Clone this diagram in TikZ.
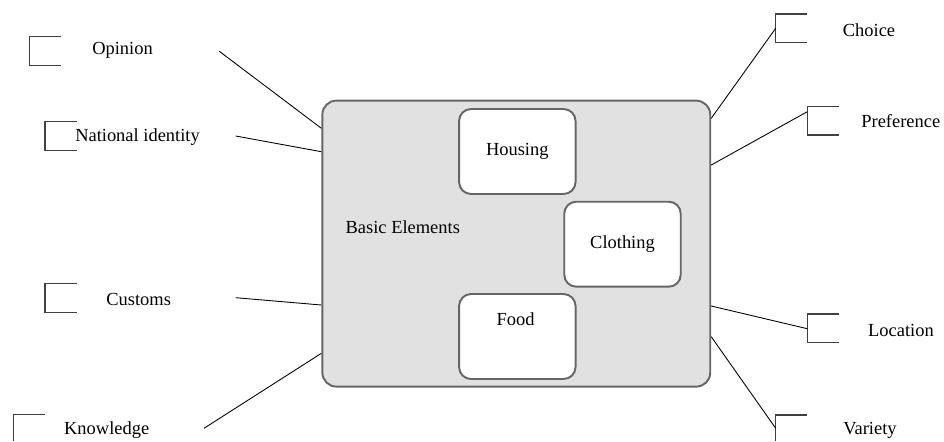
\documentclass[tikz,border=0pt]{standalone}
\usepackage{fontspec}
\setmainfont{Liberation Serif}
\usepackage{xcolor}
\definecolor{box-gray}{HTML}{E1E1E1}
\definecolor{edge-gray}{HTML}{666666}
\definecolor{brack-gray}{HTML}{404040}

\begin{document}
\begin{tikzpicture}[x=0.02cm, y=-0.02cm,
        every node/.style={font=\fontsize{10.5}{12}\selectfont, inner sep=0pt},
        elem/.style={draw=edge-gray, line width=1.1pt, fill=white,
            rounded corners=0.24cm, minimum width=2.33cm, minimum height=1.7cm},
        brack/.style={draw=brack-gray, line width=0.6pt},
        link/.style={draw=black, line width=0.5pt}]
      \useasboundingbox (0,0) rectangle (944,441);
      % central block
      \node[draw=edge-gray, line width=1.1pt, fill=box-gray,
            rounded corners=0.28cm, minimum width=7.76cm, minimum height=5.72cm]
            (BASIC) at (516.3,243.6) {};
      \node (BTXT) at (402.8,226.7) {Basic Elements};
      \node[elem] (HOUS) at (517.3,151.5) {Housing};
      \node[elem] (CLOTH) at (622.5,244.2) {Clothing};
      \node[elem] (FOOD) at (517.3,336.5) {};
      \node (FTXT) at (515.7,319) {Food};
      % left labels
      \draw[brack] (61,36.7) -| (29.3,65.7) -- (61,65.7);
      \node (OPIN) at (122.5,50.7) {Opinion};
      \coordinate (OPINe) at (219.3,51.3);
      \draw[brack] (77,121.7) -| (45,150.7) -- (77,150.7);
      \node (NATID) at (137.5,136.7) {National identity};
      \coordinate (NATIDe) at (235.7,136);
      \draw[brack] (77,283.3) -| (45,312.3) -- (77,312.3);
      \node (CUST) at (138.7,299) {Customs};
      \coordinate (CUSTe) at (235.7,297.7);
      \draw[brack] (45,414.7) -| (13.3,441);
      \node (KNOW) at (106.7,430) {Knowledge};
      \coordinate (KNOWe) at (204,428.3);
      % right labels
      \draw[brack] (807.3,14) -| (775.7,42.7) -- (807.3,42.7);
      \coordinate (CHOb) at (775.7,28.3);
      \node (CHO) at (869,30) {Choice};
      \draw[brack] (839.3,106.7) -| (807.3,135) -- (839.3,135);
      \coordinate (PREFb) at (807.3,111.7);
      \node (PREF) at (900.8,120.7) {Preference};
      \draw[brack] (839.3,314) -| (807.3,342.7) -- (839.3,342.7);
      \coordinate (LOCb) at (807.3,328.7);
      \node (LOC) at (901,330) {Location};
      \draw[brack] (807.3,415) -| (775.7,441);
      \coordinate (VARb) at (775.7,428.3);
      \node (VAR) at (870,430) {Variety};
      % connectors
      \draw[link] (OPINe) -- (BASIC.west |- 0,128.3);
      \draw[link] (NATIDe) -- (BASIC.west |- 0,151.7);
      \draw[link] (CUSTe) -- (BASIC.west |- 0,305);
      \draw[link] (KNOWe) -- (BASIC.west |- 0,353.3);
      \draw[link] (BASIC.east |- 0,118.3) -- (CHOb);
      \draw[link] (BASIC.east |- 0,165) -- (PREFb);
      \draw[link] (BASIC.east |- 0,306) -- (LOCb);
      \draw[link] (BASIC.east |- 0,336.7) -- (VARb);
    \end{tikzpicture}
\end{document}
